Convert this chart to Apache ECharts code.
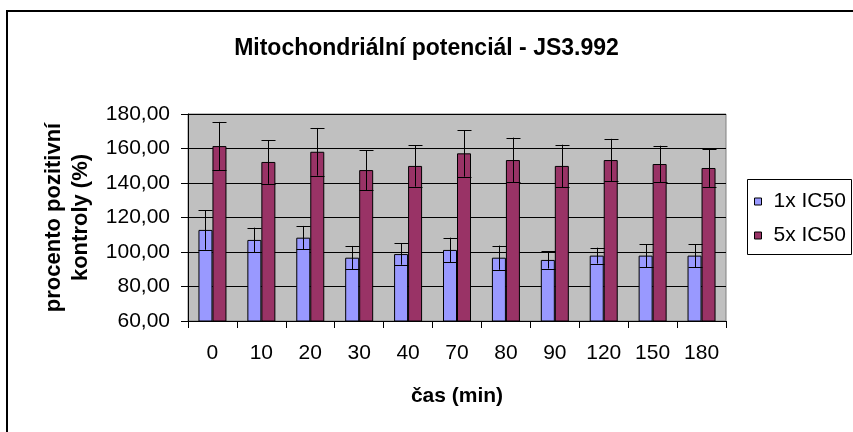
<!DOCTYPE html>
<html>
<head>
<meta charset="utf-8">
<script src="https://cdn.jsdelivr.net/npm/echarts@6/dist/echarts.min.js"></script>
<style>html,body{margin:0;padding:0;background:#fff}#c{width:853px;height:432px}</style>
</head>
<body>
<div id="c"></div>
<script>
const categories = ['0','10','20','30','40','70','80','90','120','150','180'];
const seriesNames = ['1x IC50','5x IC50'];
const values1x = [112.8,107.0,108.3,96.7,98.8,101.2,96.7,95.4,97.9,97.9,97.9];
const errors1x = [11.5,7.1,6.8,6.8,6.2,7.1,7.0,5.0,4.6,6.7,6.7];
const values5x = [161.4,152.2,158.1,147.5,149.9,157.2,153.3,149.9,153.3,151.0,148.7];
const errors5x = [14.0,12.7,13.8,11.6,12.0,13.5,13.0,12.3,12.3,10.6,11.0];
const yTicks = [60,80,100,120,140,160,180];

const FONT = "'Liberation Sans', Arial, sans-serif";
const BAR_W = 14;

function errSeries(vals, errs, dx) {
  return {
    type: 'custom',
    z: 10,
    silent: true,
    data: vals.map((v, i) => [i, v, errs[i]]),
    encode: { x: 0, y: 1 },
    renderItem: function (params, api) {
      const i = api.value(0), v = api.value(1), e = api.value(2);
      const c = api.coord([i, v]);
      const hi = api.coord([i, v + e]);
      const lo = api.coord([i, v - e]);
      const x = Math.round(c[0] + dx) + 0.5;
      const st = { stroke: '#000', lineWidth: 1 };
      return {
        type: 'group',
        children: [
          { type: 'line', shape: { x1: x, y1: hi[1], x2: x, y2: lo[1] }, style: st },
          { type: 'line', shape: { x1: x - 7, y1: Math.round(hi[1]) + 0.5, x2: x + 7, y2: Math.round(hi[1]) + 0.5 }, style: st },
          { type: 'line', shape: { x1: x - 7, y1: Math.round(lo[1]) + 0.5, x2: x + 7, y2: Math.round(lo[1]) + 0.5 }, style: st }
        ]
      };
    }
  };
}

const chart = echarts.init(document.getElementById('c'), null, { renderer: 'canvas' });
chart.setOption({
  animation: false,
  backgroundColor: '#fff',
  textStyle: { fontFamily: FONT },
  title: {
    text: 'Mitochondriální potenciál - JS3.992',
    left: 'center',
    top: 32,
    textStyle: { fontFamily: FONT, fontSize: 23, fontWeight: 'bold', color: '#000' }
  },
  legend: {
    orient: 'vertical',
    left: 746,
    top: 179,
    data: seriesNames,
    icon: 'rect',
    itemWidth: 7,
    itemHeight: 7,
    itemGap: 13,
    padding: [12, 6, 10, 8],
    borderWidth: 0,
    itemStyle: { borderColor: '#000', borderWidth: 1 },
    textStyle: { fontFamily: FONT, fontSize: 21, color: '#000', padding: [0, 0, 0, 7] }
  },
  grid: {
    left: 188, right: 127, top: 114, bottom: 111,
    show: true, backgroundColor: '#C0C0C0', borderColor: '#808080', borderWidth: 1
  },
  xAxis: {
    type: 'category',
    data: categories,
    name: 'čas (min)',
    nameLocation: 'middle',
    nameGap: 65,
    nameTextStyle: { fontFamily: FONT, fontSize: 21, fontWeight: 'bold', color: '#000' },
    axisLine: { lineStyle: { color: '#000', width: 1 } },
    axisTick: { show: true, length: 7, lineStyle: { color: '#000' } },
    axisLabel: { margin: 22, fontFamily: FONT, fontSize: 21, color: '#000' },
    splitLine: { show: false }
  },
  yAxis: {
    type: 'value',
    min: yTicks[0],
    max: yTicks[yTicks.length - 1],
    interval: 20,
    name: 'procento pozitivní\nkontroly (%)',
    nameLocation: 'middle',
    nameGap: 94,
    nameTextStyle: { fontFamily: FONT, fontSize: 22, fontWeight: 'bold', color: '#000', lineHeight: 27 },
    axisLine: { show: true, lineStyle: { color: '#000', width: 1 } },
    axisTick: { show: true, length: 7, lineStyle: { color: '#000' } },
    axisLabel: {
      margin: 18, fontFamily: FONT, fontSize: 21, color: '#000',
      formatter: v => v.toFixed(2).replace('.', ',')
    },
    splitLine: { show: true, lineStyle: { color: '#000', width: 1 } }
  },
  graphic: [
    {
      type: 'rect',
      z: 100,
      shape: { x: 7, y: 11, width: 900, height: 500 },
      style: { fill: 'none', stroke: '#000', lineWidth: 2 }
    },
    {
      type: 'rect',
      z: -1,
      shape: { x: 747.5, y: 179.5, width: 104, height: 75 },
      style: { fill: '#fff', stroke: '#000', lineWidth: 1 }
    }
  ],
  series: [
    {
      name: seriesNames[0], type: 'bar', data: values1x, barWidth: BAR_W, barGap: '0%',
      itemStyle: { color: '#9999FF', borderColor: '#000', borderWidth: 1 }
    },
    {
      name: seriesNames[1], type: 'bar', data: values5x, barWidth: BAR_W, barGap: '0%',
      itemStyle: { color: '#993366', borderColor: '#000', borderWidth: 1 }
    },
    errSeries(values1x, errors1x, -BAR_W / 2),
    errSeries(values5x, errors5x, BAR_W / 2)
  ]
});
</script>
</body>
</html>
